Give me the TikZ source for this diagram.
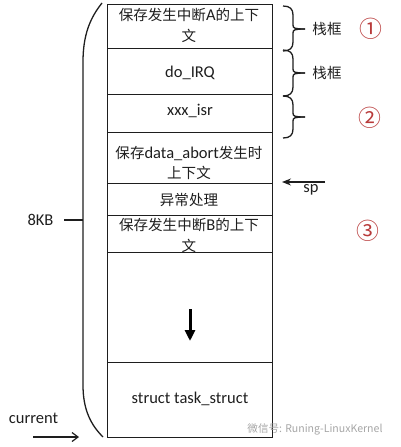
\documentclass[tikz,border=0pt]{standalone}
\usepackage{fontspec}
\setmainfont{Carlito}
\newfontfamily\cjk[Scale=0.88]{Noto Sans CJK SC}
\usetikzlibrary{arrows.meta}
\definecolor{ink}{HTML}{1E1E1E}
\definecolor{circred}{HTML}{B83A3A}
\newcommand\myrbrace[3]{%
 \draw[bline] (283,#1) .. controls (290,#1) and (293,#1+3) .. (293,#1+9) -- (293,#2-4) .. controls (293,#2-1) and (294,#2) .. (305,#2);
 \draw[bline] (283,#3) .. controls (290,#3) and (293,#3-3) .. (293,#3-9) -- (293,#2+4) .. controls (293,#2+1) and (294,#2) .. (305,#2);}
\begin{document}
\begin{tikzpicture}[x=1pt,y=-1pt,
  cell/.style={draw=ink, line width=1.4pt, minimum width=165pt, inner sep=0pt, anchor=north west},
  txt/.style={text=ink, font=\fontsize{16.5}{20.5}\selectfont, align=center, inner sep=0pt},
  bline/.style={draw=ink, line width=1.3pt},
  circ/.style={text=circred, font=\cjk\fontsize{26}{26}\selectfont, inner sep=0pt}]
\useasboundingbox (0,0) rectangle (401,447);
% cells
\node[cell, minimum height=44pt] (c1) at (107,4) {};
\node[cell, minimum height=46pt] (c2) at (107,48) {};
\node[cell, minimum height=38pt] (c3) at (107,94) {};
\node[cell, minimum height=51pt] (c4) at (107,132) {};
\node[cell, minimum height=32pt] (c5) at (107,183) {};
\node[cell, minimum height=37pt] (c6) at (107,215) {};
\node[cell, minimum height=110pt] (c7) at (107,252) {};
\node[cell, minimum height=75pt] (c8) at (107,362) {};
% texts
\node[txt] (t1) at (189,25.5) {{\cjk 保存发生中断}A{\cjk 的上下}\\{\cjk 文}};
\node[txt] (t2) at (190,73) {do\_IRQ};
\node[txt] (t3) at (190,111) {xxx\_isr};
\node[txt] (t4) at (189,163) {{\cjk 保存}data\_abort{\cjk 发生时}\\{\cjk 上下文}};
\node[txt] (t5) at (189,200) {\cjk 异常处理};
\node[txt] (t6) at (189,235.5) {{\cjk 保存发生中断}B{\cjk 的上下}\\{\cjk 文}};
\node[txt] (t8) at (190,399) {struct task\_struct};
% down arrow
\coordinate (da1) at (190,309);
\coordinate (da2) at (190,341);
\draw[draw=black, line width=3pt, -{Triangle[length=11pt,width=10pt]}] (da1) -- (da2);
% left big brace
\draw[bline] (102,3) .. controls (90,18) and (83,35) .. (83,62) -- (83,385) .. controls (83,410) and (91,425) .. (103,437);
\coordinate (kbtick) at (83,220);
\coordinate (kbs) at (64,220);
\node[txt] (kb) at (40.5,220) {8KB};
\draw[bline] (kbs) -- (kbtick);
% current
\node[txt] (cur) at (33.5,418) {current};
\coordinate (cura) at (33,437);
\coordinate (curb) at (79,437);
\draw[bline, line width=1.2pt, -{Straight Barb[length=6pt,width=9pt]}] (cura) -- (curb);
% right braces
\myrbrace{6}{29}{51}
\myrbrace{50}{73}{96}
\myrbrace{96}{117}{138}
\node[txt] (k1) at (327,29) {\cjk 栈框};
\node[txt] (k2) at (327,73) {\cjk 栈框};
% sp
\coordinate (spa) at (325,182);
\coordinate (spb) at (282,182);
\draw[bline, line width=1.2pt, -{Stealth[length=9pt,width=7pt]}] (spa) -- (spb);
\node[txt] (sp) at (311,190) {sp};
% circled numbers
\node[circ] (n1) at (371,29) {①};
\node[circ] (n2) at (370,118) {②};
\node[circ] (n3) at (368,231) {③};
% watermark
\node[text=black!35, font=\cjk\fontsize{12}{12}\selectfont, inner sep=0pt] (wm) at (315,429) {微信号: Runing-LinuxKernel};
\end{tikzpicture}
\end{document}
